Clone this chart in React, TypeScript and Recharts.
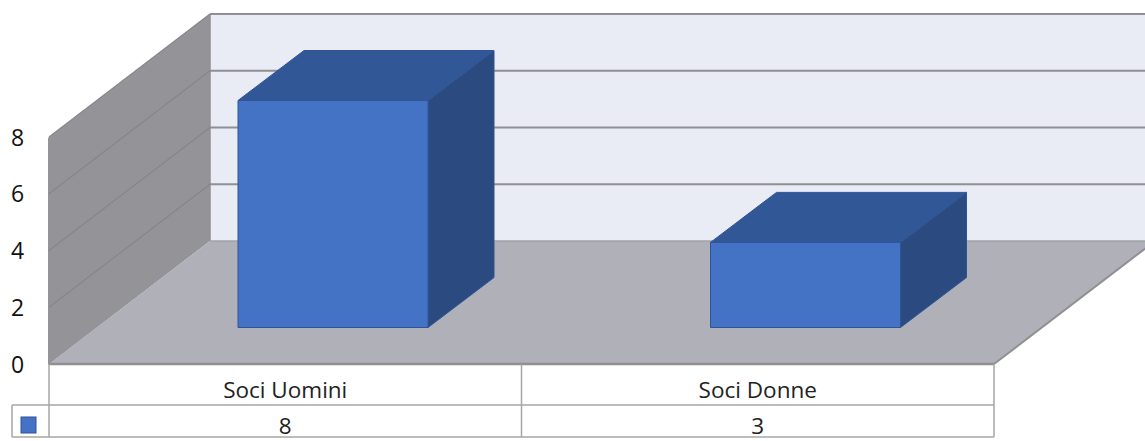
import { BarChart, Bar, XAxis, YAxis, CartesianGrid } from "recharts";

const categories = ["Soci Uomini", "Soci Donne"];
const values = [8, 3];
const yTicks = [0, 2, 4, 6, 8];

const chartData = categories.map((name, i) => ({ name, value: values[i] }));

const W = 1145;
const H = 441;
// plot area (front plane)
const LEFT = 49;
const RIGHT = 994;
const TOP = 137;
const BOTTOM = 364;
// how far the back wall sits behind the front plane
const DX = 161;
const DY = 123;
// bars stand in the middle of the floor
const BAR_SHIFT_X = 48;
const BAR_SHIFT_Y = 36.5;
const BAR_DX = 66;
const BAR_DY = 50;

const FONT = "'Open Sans', sans-serif";
const EDGE = "#8f8f94";
const TABLE_LINE = "#a6a6a6";
const ROW_Y = 405;
const TABLE_BOTTOM = 437;
const LEGEND_LEFT = 12;

function pts(list: number[][]) {
  return list.map((p) => p.join(",")).join(" ");
}

// walls and floor
function Walls() {
  return (
    <g>
      <rect x={LEFT + DX} y={TOP - DY} width={RIGHT - LEFT} height={BOTTOM - TOP} fill="#e9ebf5" />
      <polygon
        points={pts([[LEFT - 1, TOP + 1], [LEFT + DX, TOP - DY], [LEFT + DX, BOTTOM - DY], [LEFT - 1, BOTTOM + 1]])}
        fill="#939398"
      />
      <polygon
        points={pts([[LEFT, BOTTOM], [LEFT + DX, BOTTOM - DY], [RIGHT + DX, BOTTOM - DY], [RIGHT, BOTTOM]])}
        fill="#afb0b8"
      />
      <line x1={LEFT + DX} y1={TOP - DY} x2={LEFT + DX} y2={BOTTOM - DY} stroke={EDGE} strokeWidth={1.5} />
      <line x1={LEFT + DX} y1={BOTTOM - DY} x2={RIGHT + DX} y2={BOTTOM - DY} stroke="#a2a2a8" strokeWidth={1.5} />
      <line x1={RIGHT} y1={BOTTOM} x2={RIGHT + DX} y2={BOTTOM - DY} stroke={EDGE} strokeWidth={2} />
      <line x1={LEFT} y1={BOTTOM} x2={RIGHT} y2={BOTTOM} stroke={EDGE} strokeWidth={2.5} />
    </g>
  );
}

// gridline runs along the left wall and then across the back wall
function GridLine(props: any) {
  const y = props.y1 ?? props.y;
  if (Math.abs(y - BOTTOM) < 1) return <g />;
  return (
    <g>
      <line x1={LEFT} y1={y} x2={LEFT + DX} y2={y - DY} stroke="#85858a" strokeWidth={1.2} />
      <line x1={LEFT + DX} y1={y - DY} x2={RIGHT + DX} y2={y - DY} stroke={EDGE} strokeWidth={2} />
    </g>
  );
}

function Box3D(props: any) {
  const { x, y, width, height } = props;
  const l = x + BAR_SHIFT_X;
  const r = l + width;
  const t = y - BAR_SHIFT_Y;
  const b = t + height;
  return (
    <g stroke="#2f5597" strokeWidth={1} strokeLinejoin="round">
      <polygon
        points={pts([[r, t], [r + BAR_DX, t - BAR_DY], [r + BAR_DX, b - BAR_DY], [r, b]])}
        fill="#2a4a80"
      />
      <polygon
        points={pts([[l, t], [l + BAR_DX, t - BAR_DY], [r + BAR_DX, t - BAR_DY], [r, t]])}
        fill="#325796"
      />
      <rect x={l} y={t} width={width} height={height} fill="#4472c4" />
    </g>
  );
}

function YTick(props: any) {
  return (
    <text x={17.5} y={props.y} dy={8.5} textAnchor="middle" fontFamily={FONT} fontSize={23} fill="#111">
      {props.payload.value}
    </text>
  );
}

// category label plus the data table value under it
function TableTick(props: any) {
  const i = categories.indexOf(props.payload.value);
  return (
    <g fontFamily={FONT} fontSize={22.5} fill="#222" textAnchor="middle">
      <text x={props.x} y={398}>{categories[i]}</text>
      <text x={props.x} y={434}>{values[i]}</text>
    </g>
  );
}

function DataTable() {
  const mid = (LEFT + RIGHT) / 2;
  return (
    <g stroke={TABLE_LINE} strokeWidth={1.5}>
      <line x1={LEFT} y1={BOTTOM} x2={LEFT} y2={TABLE_BOTTOM} />
      <line x1={mid} y1={BOTTOM} x2={mid} y2={TABLE_BOTTOM} />
      <line x1={RIGHT} y1={BOTTOM} x2={RIGHT} y2={TABLE_BOTTOM} />
      <line x1={LEGEND_LEFT} y1={ROW_Y} x2={RIGHT} y2={ROW_Y} />
      <line x1={LEGEND_LEFT} y1={TABLE_BOTTOM} x2={RIGHT} y2={TABLE_BOTTOM} />
      <line x1={LEGEND_LEFT} y1={ROW_Y} x2={LEGEND_LEFT} y2={TABLE_BOTTOM} />
      <rect x={21} y={417} width={15} height={16} fill="#4472c4" stroke="#2f5597" strokeWidth={1} />
    </g>
  );
}

export default function App() {
  return (
    <div style={{ position: "absolute", left: 0, top: 0, width: W, height: H, overflow: "hidden" }}>
      <BarChart
        width={W}
        height={H}
        data={chartData}
        margin={{ top: TOP, right: W - RIGHT, bottom: 0, left: 0 }}
        barSize={190}
      >
        <Walls />
        <CartesianGrid vertical={false} horizontal={GridLine} zIndex={1} />
        <DataTable />
        <XAxis
          dataKey="name"
          height={H - BOTTOM}
          axisLine={false}
          tickLine={false}
          tick={TableTick}
          interval={0}
        />
        <YAxis
          width={LEFT}
          domain={[0, 8]}
          ticks={yTicks}
          axisLine={false}
          tickLine={false}
          tick={YTick}
        />
        <Bar dataKey="value" shape={Box3D} isAnimationActive={false} />
      </BarChart>
    </div>
  );
}
